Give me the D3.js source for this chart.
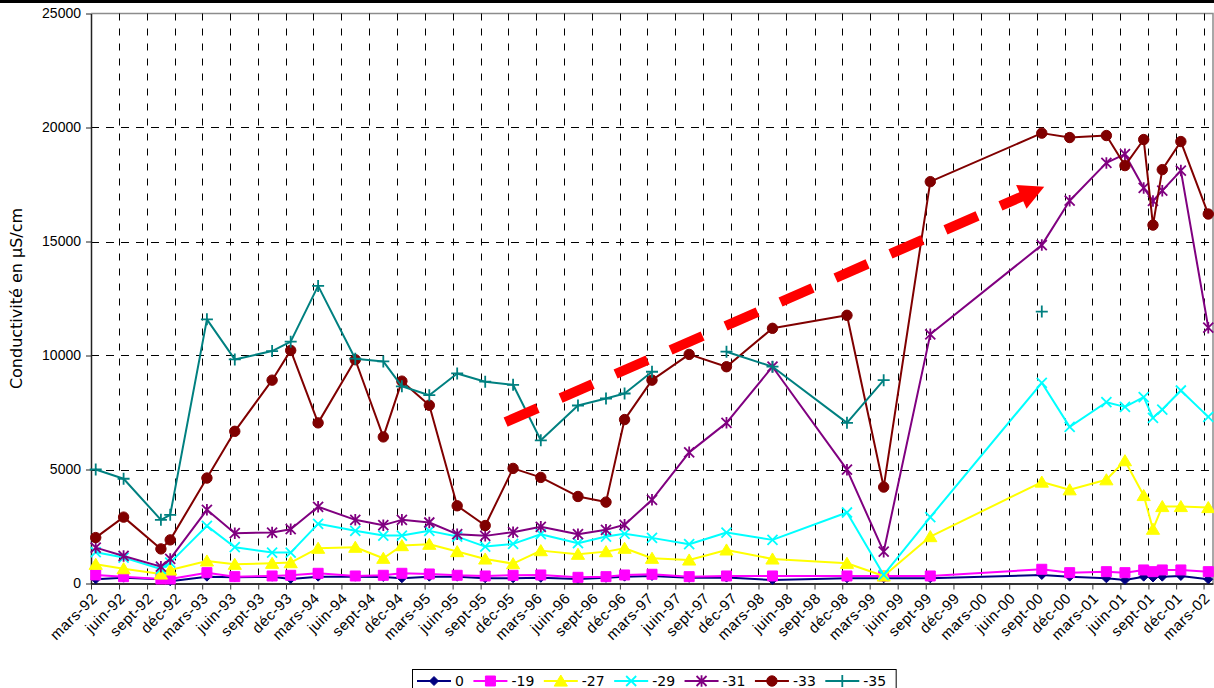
<!DOCTYPE html>
<html><head><meta charset="utf-8">
<script src="https://cdn.jsdelivr.net/npm/d3@7"></script>
<style>
html,body{margin:0;padding:0;background:#fff;}
svg{display:block;font-family:"DejaVu Sans", Verdana, sans-serif;}
</style></head><body>
<svg id="chart" width="1214" height="688"></svg>
<script>
// ---- data ----
const dates = ["1992-03","1992-06","1992-10","1992-11","1993-03","1993-06","1993-10","1993-12","1994-03","1994-07","1994-10","1994-12","1995-03","1995-06","1995-09","1995-12","1996-03","1996-07","1996-10","1996-12","1997-03","1997-07","1997-11","1998-04","1998-12","1999-04","1999-09","2000-09","2000-12","2001-04","2001-06","2001-08","2001-09","2001-10","2001-12","2002-03"];
const seriesNames = ["0","-19","-27","-29","-31","-33","-35"];
const v0   = [185,255,185,100,300,272,300,200,300,300,290,230,300,300,230,230,250,200,250,300,330,250,260,154,230,228,228,374,300,228,154,300,264,300,330,185];
const v19  = [374,300,198,198,475,300,330,360,448,330,360,448,418,360,330,360,374,272,300,374,405,300,330,330,330,330,330,624,475,519,475,594,519,594,594,519];
const v27  = [844,651,418,594,990,844,888,916,1548,1592,1108,1663,1724,1400,1077,871,1442,1284,1398,1548,1108,1033,1473,1077,888,330,2058,4450,4112,4551,5387,3861,2383,3377,3377,3333];
const v29  = [1372,1136,638,916,2529,1592,1355,1355,2616,2309,2102,2102,2309,2058,1618,1737,2163,1768,2058,2177,2001,1724,2234,1913,3114,374,2911,8804,6869,7951,7748,8171,7265,7630,8465,7308];
const v31  = [1575,1209,740,1077,3232,2208,2234,2383,3364,2792,2559,2792,2675,2163,2089,2251,2485,2163,2353,2573,3672,5752,7045,9508,4991,1398,10928,14842,16790,18448,18830,17348,16777,17230,18109,11222];
const v33  = [2014,2911,1517,1913,4626,6675,8918,10224,7045,9815,6429,8875,7819,3408,2542,5048,4653,3817,3570,7190,8918,10048,9508,11192,11763,4230,17625,19753,19560,19648,18329,19472,15721,18153,19384,16205];
const v35  = [5000,4595,2792,3012,11587,9828,10194,10607,13052,9859,9740,8650,8259,9213,8850,8716,6280,7806,8113,8333,9287,null,10167,9508,7045,8918,null,11926,null,null,null,null,null,null,null,null];
const yTicks = [0,5000,10000,15000,20000,25000];
const xTickStart = "1992-03", xTickCount = 41, xTickStepMonths = 3;
const monthNames = ["janv","févr","mars","avr","mai","juin","juil","août","sept","oct","nov","déc"];
const yLabel = "Conductivité en µS/cm";
// trend arrow annotation (data space)
const arrowStart = {date:"1995-11-22", value:7080};
const arrowEnd   = {date:"2000-09-24", value:17400};

// ---- layout ----
const W = 1214, H = 688;
const L = 91, R = 1213, T = 13.5, B = 583.5;
const svg = d3.select("#chart");

const parseM = d3.timeParse("%Y-%m");
const parseD = d3.timeParse("%Y-%m-%d");
const x = d3.scaleTime().domain([new Date(1992,2,1), new Date(2002,3,1)]).range([L, R]);
const y = d3.scaleLinear().domain([0,25000]).range([B, T]);
const xMid = d => { const a = parseM(d); return (x(a) + x(d3.timeMonth.offset(a,1)))/2; };

// top black frame line
svg.append("rect").attr("x",0).attr("y",0).attr("width",W).attr("height",3).attr("fill","#000");

// plot border (top/right gray)
svg.append("path").attr("d",`M${L},${T}H${R}V${B}`).attr("fill","none").attr("stroke","#8c8c8c").attr("stroke-width",1.5);

// gridlines
const tickDates = d3.range(xTickCount).map(i => d3.timeMonth.offset(parseM(xTickStart), i*xTickStepMonths));
svg.append("g").selectAll("line").data(tickDates.slice(1)).join("line")
  .attr("x1",d=>Math.round(x(d))+0.5).attr("x2",d=>Math.round(x(d))+0.5)
  .attr("y1",T).attr("y2",B)
  .attr("stroke","#000").attr("stroke-width",1).attr("stroke-dasharray","7,8");
svg.append("g").selectAll("line").data(yTicks.filter(v=>v>0 && v<25000)).join("line")
  .attr("x1",L).attr("x2",R).attr("y1",d=>Math.round(y(d))+0.5).attr("y2",d=>Math.round(y(d))+0.5)
  .attr("stroke","#000").attr("stroke-width",1).attr("stroke-dasharray","8,7");

// axes
const gx = svg.append("g").attr("transform",`translate(0,${B})`)
  .call(d3.axisBottom(x).tickValues(tickDates).tickSize(6).tickSizeOuter(0)
    .tickFormat(d => monthNames[d.getMonth()] + "-" + d3.timeFormat("%y")(d)));
gx.select(".domain").attr("stroke","#333").attr("stroke-width",2);
gx.selectAll(".tick line").attr("stroke","#333");
gx.selectAll(".tick text")
  .attr("font-size","15px").attr("fill","#000").attr("letter-spacing","0.6px")
  .attr("text-anchor","end")
  .attr("transform","translate(3,12) rotate(-45)")
  .attr("dx","0").attr("dy","0.35em").attr("y",0);

const gy = svg.append("g").attr("transform",`translate(${L},0)`)
  .call(d3.axisLeft(y).tickValues(yTicks).tickSize(5).tickSizeOuter(0).tickFormat(d3.format("d")));
gy.select(".domain").attr("stroke","#222").attr("stroke-width",1.5);
gy.selectAll(".tick line").attr("stroke","#222");
gy.selectAll(".tick text").attr("font-size","14px").attr("fill","#000").attr("x",-10);

svg.append("text").attr("transform",`translate(22,${(T+B)/2}) rotate(-90)`)
  .attr("text-anchor","middle").attr("font-size","16px").attr("fill","#000").text(yLabel);

// markers
const markerPath = {
  diamond: s => `M0,${-s}L${s},0L0,${s}L${-s},0Z`,
  square: s => `M${-s},${-s}H${s}V${s}H${-s}Z`,
  triangle: s => `M0,${-s}L${s*1.1},${s*0.85}L${-s*1.1},${s*0.85}Z`,
  cross: s => `M${-s},${-s}L${s},${s}M${-s},${s}L${s},${-s}`,
  star: s => `M${-s},${-s}L${s},${s}M${-s},${s}L${s},${-s}M0,${-s*1.15}V${s*1.15}`,
  circle: s => `M${s},0A${s},${s} 0 1,1 ${-s},0A${s},${s} 0 1,1 ${s},0Z`,
  plus: s => `M${-s},0H${s}M0,${-s}V${s}`
};
const series = [
  {name:seriesNames[0], values:v0,  color:"#000080", shape:"diamond", size:4.5, fill:true},
  {name:seriesNames[1], values:v19, color:"#FF00FF", shape:"square",  size:5,   fill:true},
  {name:seriesNames[2], values:v27, color:"#FFFF00", shape:"triangle",size:6,   fill:true},
  {name:seriesNames[3], values:v29, color:"#00FFFF", shape:"cross",   size:5,   fill:false},
  {name:seriesNames[4], values:v31, color:"#800080", shape:"star",    size:5,   fill:false},
  {name:seriesNames[5], values:v33, color:"#800000", shape:"circle",  size:5.2, fill:true},
  {name:seriesNames[6], values:v35, color:"#008080", shape:"plus",    size:6,   fill:false}
];

const line = d3.line().defined(d=>d.v!=null).x(d=>d.x).y(d=>y(d.v));
series.forEach(s => {
  const pts = dates.map((d,i)=>({x:xMid(d), v:s.values[i]}));
  const g = svg.append("g");
  g.append("path").datum(pts).attr("d",line).attr("fill","none")
    .attr("stroke",s.color).attr("stroke-width",2).attr("stroke-linejoin","round");
  g.selectAll("path.m").data(pts.filter(p=>p.v!=null)).join("path").attr("class","m")
    .attr("transform",p=>`translate(${p.x},${y(p.v)})`)
    .attr("d",markerPath[s.shape](s.size))
    .attr("fill",s.fill?s.color:"none")
    .attr("stroke",s.color).attr("stroke-width",s.fill?1:1.8);
});

// trend arrow
(function(){
  const x0 = x(parseD(arrowStart.date)), y0 = y(arrowStart.value);
  const x1 = x(parseD(arrowEnd.date)),   y1 = y(arrowEnd.value);
  const dx = x1-x0, dy = y1-y0, len = Math.hypot(dx,dy), ux = dx/len, uy = dy/len;
  const headL = 25, headW = 13;
  const bx = x1-ux*headL, by = y1-uy*headL;
  svg.append("line").attr("x1",x0).attr("y1",y0).attr("x2",bx+ux*2).attr("y2",by+uy*2)
    .attr("stroke","#FF0000").attr("stroke-width",10).attr("stroke-dasharray","35,25");
  svg.append("path").attr("d",`M${x1},${y1}L${bx-uy*headW},${by+ux*headW}L${bx+uy*headW},${by-ux*headW}Z`)
    .attr("fill","#FF0000");
})();

// legend
const lg = svg.append("g");
const lgY = 681;
let cx = 417;
series.forEach(s => {
  const g = lg.append("g");
  g.append("line").attr("x1",cx).attr("x2",cx+34).attr("y1",lgY).attr("y2",lgY)
    .attr("stroke",s.color).attr("stroke-width",2);
  g.append("path").attr("transform",`translate(${cx+17},${lgY})`).attr("d",markerPath[s.shape](s.size))
    .attr("fill",s.fill?s.color:"none").attr("stroke",s.color).attr("stroke-width",s.fill?1:1.8);
  const t = g.append("text").attr("x",cx+38).attr("y",lgY+5).attr("font-size","14px").attr("fill","#000").text(s.name);
  cx += 38 + t.node().getComputedTextLength() + 9.5;
});
lg.insert("rect",":first-child").attr("x",412.5).attr("y",669.5).attr("width",cx-412).attr("height",26)
  .attr("fill","#fff").attr("stroke","#000").attr("stroke-width",1);
</script>
</body></html>
